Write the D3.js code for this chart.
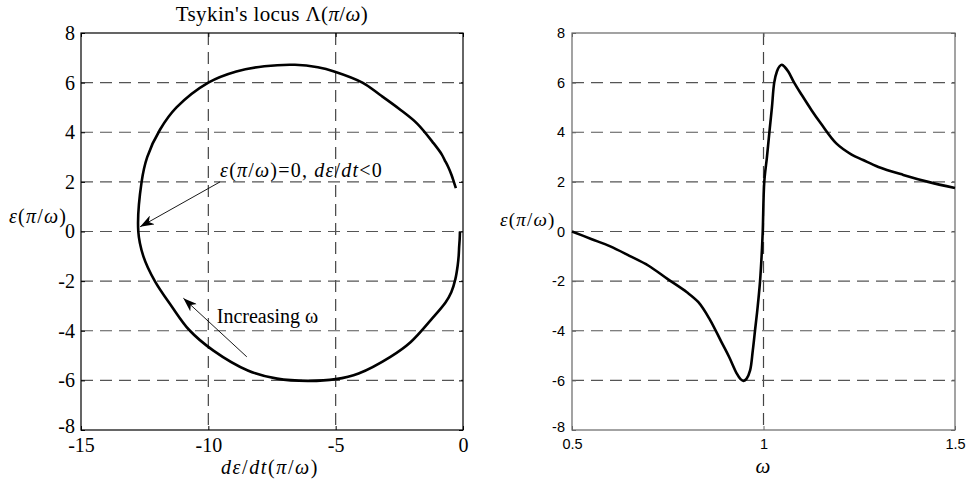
<!DOCTYPE html>
<html>
<head>
<meta charset="utf-8">
<script src="https://cdn.jsdelivr.net/npm/d3@7"></script>
<style>
  body { margin: 0; background: #fff; }
  svg { display: block; }
  .serif { font-family: "Liberation Serif", "Times New Roman", serif; }
  .sans { font-family: "Liberation Sans", Arial, sans-serif; }
</style>
</head>
<body>
<div id="chart"></div>
<script>
// frequency samples, shared by both panels
const omega = [0.50, 0.55, 0.60, 0.65, 0.70, 0.75, 0.80, 0.83, 0.86, 0.89, 0.91, 0.93, 0.94,
  0.948, 0.956, 0.965, 0.972, 0.978, 0.985, 0.991, 0.995, 0.998, 1.002, 1.009, 1.016, 1.022,
  1.028, 1.035, 1.042, 1.048, 1.056, 1.065, 1.08, 1.10, 1.125, 1.15, 1.19, 1.23, 1.26, 1.30,
  1.365, 1.43, 1.50];
// eps(pi/omega)
const eps = [0.00, -0.30, -0.60, -0.98, -1.38, -1.92, -2.45, -2.85, -3.55, -4.45, -5.05, -5.72, -5.95,
  -6.02, -5.93, -5.60, -4.80, -3.97, -3.00, -2.00, -1.00, 0.00, 2.00, 3.00, 4.10, 5.00,
  6.00, 6.45, 6.66, 6.72, 6.62, 6.44, 6.00, 5.50, 4.90, 4.35, 3.55, 3.10, 2.88, 2.60,
  2.28, 2.00, 1.75];
// d eps/dt (pi/omega)
const deps = [-0.12, -0.13, -0.15, -0.17, -0.21, -0.30, -0.46, -0.68, -1.25, -2.05, -2.85, -4.10, -5.0,
  -6.1, -7.3, -8.45, -9.8, -10.75, -11.45, -12.10, -12.55, -12.75, -12.62, -12.40, -11.90, -11.25,
  -10.0, -8.9, -7.8, -6.6, -5.7, -5.03, -3.95, -3.25, -2.45, -1.80, -1.15, -0.83, -0.72, -0.58,
  -0.45, -0.36, -0.28];

const yTicks = [-8, -6, -4, -2, 0, 2, 4, 6, 8];
const leftXTicks = [-15, -10, -5, 0];
const rightXTicks = [0.5, 1, 1.5];

const W = 969, H = 487;
const svg = d3.select('#chart').append('svg')
  .attr('width', W).attr('height', H);

svg.append('defs').append('marker')
  .attr('id', 'head')
  .attr('markerUnits', 'userSpaceOnUse')
  .attr('viewBox', '0 0 14 10')
  .attr('refX', 14).attr('refY', 5)
  .attr('markerWidth', 14).attr('markerHeight', 10)
  .attr('orient', 'auto')
  .append('path')
  .attr('d', 'M0,0 L14,5 L0,10 L4,5 Z')
  .attr('fill', '#000');

const plotTop = 33, plotBottom = 430;
const plain = d => String(d); // keeps the hyphen minus of the original

function panel(opts) {
  const x = d3.scaleLinear().domain(opts.xDomain).range(opts.xRange);
  const y = d3.scaleLinear().domain([-8, 8]).range([plotBottom, plotTop]);
  const g = svg.append('g');

  // dashed grid
  g.selectAll('.gx').data(opts.xTicks.slice(1, -1)).enter().append('line')
    .attr('x1', d => x(d)).attr('x2', d => x(d))
    .attr('y1', plotTop).attr('y2', plotBottom)
    .attr('stroke', '#444').attr('stroke-width', 1.2)
    .attr('stroke-dasharray', '12,7');
  g.selectAll('.gy').data(yTicks.slice(1, -1)).enter().append('line')
    .attr('x1', opts.xRange[0]).attr('x2', opts.xRange[1])
    .attr('y1', d => y(d)).attr('y2', d => y(d))
    .attr('stroke', '#555').attr('stroke-width', 1.2)
    .attr('stroke-dasharray', '12,7');

  // axes with inward ticks on all four sides
  g.append('g').attr('transform', `translate(0,${plotBottom})`)
    .call(d3.axisBottom(x).tickValues(opts.xTicks).tickSizeInner(-4).tickSizeOuter(0)
      .tickPadding(opts.xPad).tickFormat(plain));
  const ya = g.append('g').attr('transform', `translate(${opts.xRange[0]},0)`)
    .call(d3.axisLeft(y).tickValues(yTicks).tickSizeInner(-4).tickSizeOuter(0)
      .tickPadding(opts.yPad).tickFormat(plain));
  g.append('g').attr('transform', `translate(0,${plotTop})`)
    .call(d3.axisTop(x).tickValues(opts.xTicks).tickSizeInner(-4).tickSizeOuter(0).tickFormat(''));
  g.append('g').attr('transform', `translate(${opts.xRange[1]},0)`)
    .call(d3.axisRight(y).tickValues(yTicks).tickSizeInner(-4).tickSizeOuter(0).tickFormat(''));

  g.selectAll('.domain').remove();
  g.selectAll('.tick line').attr('stroke', opts.boxColor);
  g.selectAll('.tick text')
    .attr('class', opts.font)
    .attr('font-size', opts.tickSize)
    .attr('fill', '#000');
  // the lowest y label sits a little above its tick, clear of the x labels
  ya.selectAll('.tick text').filter(d => d === -8).attr('dy', '0.1em');

  g.append('rect')
    .attr('x', opts.xRange[0]).attr('y', plotTop)
    .attr('width', opts.xRange[1] - opts.xRange[0]).attr('height', plotBottom - plotTop)
    .attr('fill', 'none').attr('stroke', opts.boxColor).attr('stroke-width', 1.2);

  return { x: x, y: y, g: g };
}

// ---- left panel: the locus
const L = panel({
  xDomain: [-15, 0], xRange: [81, 463], xTicks: leftXTicks,
  font: 'serif', tickSize: 20, xPad: 8, yPad: 6, boxColor: '#000'
});

const locus = omega.map((w, i) => ({ x: deps[i], y: eps[i] }));
L.g.append('path')
  .datum(locus)
  .attr('d', d3.line().x(d => L.x(d.x)).y(d => L.y(d.y)).curve(d3.curveCatmullRom))
  .attr('fill', 'none').attr('stroke', '#000').attr('stroke-width', 2.6)
  .attr('stroke-linejoin', 'round');

// math text: pieces of [string, italic?]
function mathText(parent, x, y, size, parts, spacing, anchor) {
  const t = parent.append('text').attr('class', 'serif')
    .attr('x', x).attr('y', y).attr('font-size', size)
    .attr('letter-spacing', spacing || 0)
    .attr('text-anchor', anchor || 'start');
  parts.forEach(p => {
    const s = t.append('tspan').text(p[0]);
    if (p[1]) s.attr('font-style', 'italic');
  });
  return t;
}
const epsParts = [['ε', 1], ['(', 0], ['π', 1], ['/', 0], ['ω', 1], [')', 0]];

mathText(svg, 272, 21, 21, [["Tsykin's locus Λ(", 0], ['π', 1], ['/', 0], ['ω', 1], [')', 0]], 0.4, 'middle');
mathText(svg, 270, 474, 20, [['dε', 1], ['/', 0], ['dt', 1], ['(', 0], ['π', 1], ['/', 0], ['ω', 1], [')', 0]], 1.6, 'middle');
mathText(svg, 9, 223, 20, epsParts, 1.2);

// annotations (data coordinates of the left panel)
const notes = [
  { tx: -9.54, ty: 2.21, from: [-9.54, 2.0], to: [-12.68, 0.19] },
  { tx: -9.67, ty: -3.69, from: [-8.49, -5.05], to: [-10.98, -2.69] }
];
notes.forEach(n => {
  L.g.append('line')
    .attr('x1', L.x(n.from[0])).attr('y1', L.y(n.from[1]))
    .attr('x2', L.x(n.to[0])).attr('y2', L.y(n.to[1]))
    .attr('stroke', '#000').attr('stroke-width', 0.9)
    .attr('marker-end', 'url(#head)');
});
mathText(L.g, L.x(notes[0].tx), L.y(notes[0].ty), 20,
  epsParts.slice(0, 5).concat([[')=0, ', 0], ['dε', 1], ['/', 0], ['dt', 1], ['<0', 0]]), 1.2);
L.g.append('text').attr('class', 'serif')
  .attr('x', L.x(notes[1].tx)).attr('y', L.y(notes[1].ty)).attr('font-size', 20)
  .text('Increasing ω');

// ---- right panel: eps against omega
const R = panel({
  xDomain: [0.5, 1.5], xRange: [572, 955], xTicks: rightXTicks,
  font: 'sans', tickSize: 14.5, xPad: 9, yPad: 7, boxColor: '#666'
});
R.g.append('path')
  .datum(omega.map((w, i) => ({ x: w, y: eps[i] })))
  .attr('d', d3.line().x(d => R.x(d.x)).y(d => R.y(d.y)).curve(d3.curveCatmullRom))
  .attr('fill', 'none').attr('stroke', '#000').attr('stroke-width', 2.6)
  .attr('stroke-linejoin', 'round');

mathText(svg, 500, 226, 19, epsParts, 1.2);
mathText(svg, 763, 473, 21, [['ω', 1]], 0, 'middle');
</script>
</body>
</html>
